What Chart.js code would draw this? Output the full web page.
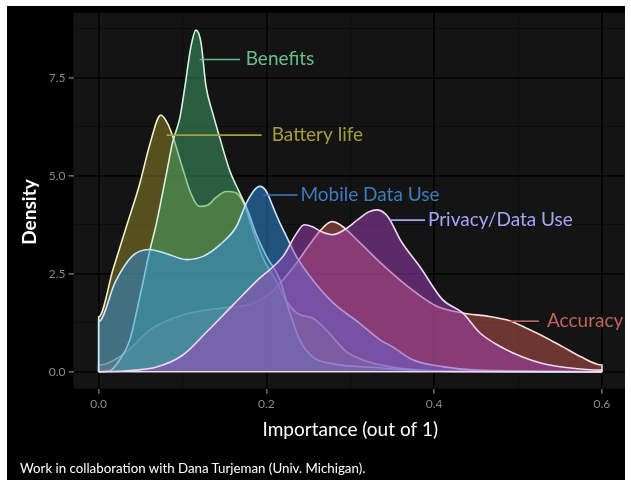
<!DOCTYPE html>
<html>
<head>
<meta charset="utf-8">
<script src="https://cdn.jsdelivr.net/npm/chart.js@4.4.0/dist/chart.umd.min.js"></script>
<style>
html, body { margin: 0; padding: 0; background: #fff; }
#wrap { position: relative; width: 631px; height: 480px; overflow: hidden; background: #000; }
#wrap canvas { position: absolute; left: 0; top: 0; }
.frame { position: absolute; background: #fff; }
#caption { position: absolute; left: 20px; top: 460px; color: #fff; font: 13.3px Lato, sans-serif; line-height: 16px; white-space: nowrap; }
</style>
</head>
<body>
<div id="wrap">
  <canvas id="density" width="631" height="480"></canvas>
  <div id="caption">Work in collaboration with Dana Turjeman (Univ. Michigan).</div>
  <div class="frame" style="left:0;top:0;width:631px;height:6px"></div>
  <div class="frame" style="left:0;top:0;width:7px;height:480px"></div>
  <div class="frame" style="left:625px;top:0;width:6px;height:480px"></div>
</div>
<script>
// density curves (x = importance, y = density)
const accuracyX = [0, 0, 0.033, 0.061, 0.1, 0.148, 0.18, 0.204, 0.22, 0.235, 0.25, 0.265, 0.278, 0.29, 0.311, 0.34, 0.37, 0.403, 0.434, 0.466, 0.49, 0.514, 0.535, 0.553, 0.575, 0.6, 0.6];
const accuracyY = [0, 0.17, 0.5, 1.07, 1.45, 1.63, 1.72, 2.0, 2.35, 2.75, 3.2, 3.62, 3.83, 3.72, 3.3, 2.7, 2.15, 1.67, 1.5, 1.41, 1.3, 1.07, 0.85, 0.64, 0.38, 0.17, 0];

const batteryX = [0, 0, 0.017, 0.033, 0.049, 0.061, 0.074, 0.083, 0.09, 0.1, 0.11, 0.12, 0.13, 0.14, 0.152, 0.162, 0.172, 0.184, 0.196, 0.212, 0.224, 0.236, 0.245, 0.255, 0.271, 0.295, 0.315, 0.335, 0.37, 0.42, 0.6];
const batteryY = [0, 1.4, 2.6, 3.7, 4.8, 5.8, 6.55, 6.3, 5.9, 5.2, 4.55, 4.22, 4.25, 4.45, 4.6, 4.58, 4.34, 3.6, 2.9, 2.3, 1.8, 1.5, 1.42, 1.37, 1.07, 0.52, 0.3, 0.18, 0.06, 0.01, 0];

const benefitsX = [0, 0.013, 0.025, 0.037, 0.049, 0.061, 0.069, 0.081, 0.088, 0.097, 0.103, 0.11, 0.116, 0.122, 0.128, 0.136, 0.144, 0.156, 0.168, 0.178, 0.188, 0.2, 0.216, 0.228, 0.24, 0.255, 0.28, 0.335, 0.38, 0.6];
const benefitsY = [0, 0.02, 0.3, 0.8, 1.9, 3.1, 3.8, 5.08, 5.84, 6.5, 7.3, 8.3, 8.72, 8.4, 7.28, 6.6, 6.0, 5.15, 4.57, 4.1, 3.5, 2.95, 2.35, 1.5, 0.8, 0.38, 0.2, 0.1, 0.03, 0];

const mobileX = [0, 0, 0.02, 0.04, 0.06, 0.08, 0.105, 0.125, 0.145, 0.164, 0.176, 0.185, 0.192, 0.2, 0.208, 0.216, 0.224, 0.236, 0.255, 0.28, 0.311, 0.335, 0.35, 0.375, 0.41, 0.45, 0.6];
const mobileY = [0, 1.28, 2.3, 2.95, 3.12, 3.02, 2.86, 2.95, 3.25, 3.7, 4.3, 4.62, 4.73, 4.6, 4.2, 3.8, 3.45, 2.93, 2.35, 1.75, 1.24, 0.82, 0.64, 0.3, 0.13, 0.04, 0];

const privacyX = [0, 0.03, 0.069, 0.1, 0.128, 0.16, 0.19, 0.22, 0.235, 0.245, 0.255, 0.265, 0.279, 0.295, 0.31, 0.322, 0.332, 0.345, 0.36, 0.383, 0.41, 0.434, 0.454, 0.474, 0.494, 0.526, 0.56, 0.6, 0.6];
const privacyY = [0, 0.02, 0.12, 0.42, 1.0, 1.7, 2.35, 2.95, 3.5, 3.75, 3.7, 3.58, 3.5, 3.65, 3.9, 4.08, 4.13, 3.95, 3.35, 2.68, 1.84, 1.5, 1.0, 0.7, 0.48, 0.23, 0.1, 0.04, 0];

const baselineX = [0, 0.6];
const baselineY = [0, 0];

// axis ticks
const xTicks = [0, 0.1, 0.2, 0.3, 0.4, 0.5, 0.6];
const xMajor = [0, 0.2, 0.4, 0.6];
const yTicks = [0, 1.25, 2.5, 3.75, 5, 6.25, 7.5, 8.75];
const yMajor = [0, 2.5, 5, 7.5];

// direct labels: name, y of the leader line, leader start / end, text start
const labelNames = ['Benefits', 'Battery life', 'Mobile Data Use', 'Privacy/Data Use', 'Accuracy'];
const labelY = [7.97, 6.04, 4.51, 3.87, 1.29];
const labelFrom = [0.1204, 0.0810, 0.1963, 0.3473, 0.4905];
const labelTo = [0.1686, 0.1943, 0.2372, 0.3890, 0.5250];
const labelTextX = [0.1753, 0.2063, 0.2405, 0.3926, 0.5345];
const labelColors = ['#66bf8c', '#a69f3c', '#3b7dc0', '#a8a4fb', '#c4645b'];

function pts(xs, ys) {
    return xs.map((x, i) => ({ x: x, y: ys[i] }));
}

function densitySet(label, xs, ys, fill, line) {
    return {
        label: label,
        data: pts(xs, ys),
        backgroundColor: fill,
        borderColor: line,
        borderWidth: 1.6,
        fill: 'origin',
        pointRadius: 0,
        cubicInterpolationMode: 'monotone'
    };
}

const panelBackground = {
    id: 'panelBackground',
    beforeDraw(chart) {
        const { ctx, chartArea } = chart;
        ctx.save();
        ctx.fillStyle = '#000';
        ctx.fillRect(0, 0, chart.width, chart.height);
        ctx.fillStyle = '#141414';
        ctx.fillRect(chartArea.left, chartArea.top, chartArea.right - chartArea.left, chartArea.bottom - chartArea.top);
        ctx.restore();
    }
};

const directLabels = {
    id: 'directLabels',
    afterDatasetsDraw(chart) {
        const { ctx } = chart;
        const xs = chart.scales.x;
        const ys = chart.scales.y;
        ctx.save();
        ctx.font = '19px Lato';
        ctx.textBaseline = 'middle';
        ctx.lineWidth = 1.6;
        labelNames.forEach((name, i) => {
            const py = ys.getPixelForValue(labelY[i]);
            ctx.strokeStyle = labelColors[i];
            ctx.beginPath();
            ctx.moveTo(xs.getPixelForValue(labelFrom[i]), py);
            ctx.lineTo(xs.getPixelForValue(labelTo[i]), py);
            ctx.stroke();
            ctx.fillStyle = labelColors[i];
            ctx.fillText(name, xs.getPixelForValue(labelTextX[i]), py - 0.5);
        });
        // y axis title
        ctx.translate(30, 212);
        ctx.rotate(-Math.PI / 2);
        ctx.font = 'bold 19px Lato';
        ctx.fillStyle = '#fff';
        ctx.textAlign = 'center';
        ctx.fillText('Density', 0, 0);
        ctx.restore();
    }
};

function gridColor(major) {
    return c => (c.tick && major.includes(c.tick.value)) ? '#030303' : '#0a0a0a';
}
function gridWidth(major) {
    return c => (c.tick && major.includes(c.tick.value)) ? 1.7 : 0.8;
}
function tickColor(major) {
    return c => (c.tick && major.includes(c.tick.value)) ? '#8a8a8a' : 'rgba(0,0,0,0)';
}

new Chart(document.getElementById('density'), {
    type: 'line',
    data: {
        datasets: [
            { label: 'base', data: pts(baselineX, baselineY), borderColor: '#eedcf2', borderWidth: 1.6, pointRadius: 0, fill: false },
            densitySet('Privacy/Data Use', privacyX, privacyY, 'rgba(163,63,187,0.5)', '#f2d8f6'),
            densitySet('Mobile Data Use', mobileX, mobileY, 'rgba(47,143,231,0.5)', '#cde6f4'),
            densitySet('Benefits', benefitsX, benefitsY, 'rgba(65,167,107,0.5)', '#d6f2e0'),
            densitySet('Battery life', batteryX, batteryY, 'rgba(150,140,40,0.5)', '#efeec4'),
            densitySet('Accuracy', accuracyX, accuracyY, 'rgba(199,87,75,0.5)', '#f6dfda')
        ]
    },
    options: {
        responsive: false,
        animation: false,
        devicePixelRatio: 1,
        events: [],
        layout: { padding: { left: 0, top: 13, right: 3.9, bottom: 38.6 } },
        plugins: { legend: { display: false }, tooltip: { enabled: false } },
        scales: {
            x: {
                type: 'linear',
                min: -0.03,
                max: 0.63,
                afterBuildTicks: s => { s.ticks = xTicks.map(v => ({ value: v })); },
                afterFit: s => { s.height = 52.6; },
                border: { display: false },
                grid: { color: gridColor(xMajor), lineWidth: gridWidth(xMajor), tickColor: tickColor(xMajor), tickLength: 5, tickWidth: 1.2 },
                ticks: {
                    autoSkip: false, maxRotation: 0, padding: 3, color: '#8a8a8a',
                    font: { family: 'Lato', size: 12 },
                    callback: v => xMajor.includes(v) ? v.toFixed(1) : ''
                },
                title: { display: true, text: 'Importance (out of 1)', color: '#fff', padding: 0, font: { family: 'Lato', size: 19 } }
            },
            y: {
                min: -0.436,
                max: 9.156,
                afterBuildTicks: s => { s.ticks = yTicks.map(v => ({ value: v })); },
                afterFit: s => { s.width = 73.5; },
                border: { display: false },
                grid: { color: gridColor(yMajor), lineWidth: gridWidth(yMajor), tickColor: tickColor(yMajor), tickLength: 5, tickWidth: 1.2 },
                ticks: {
                    autoSkip: false, padding: 3, color: '#8a8a8a',
                    font: { family: 'Lato', size: 12 },
                    callback: v => yMajor.includes(v) ? v.toFixed(1) : ''
                }
            }
        }
    },
    plugins: [panelBackground, directLabels]
});
</script>
</body>
</html>
